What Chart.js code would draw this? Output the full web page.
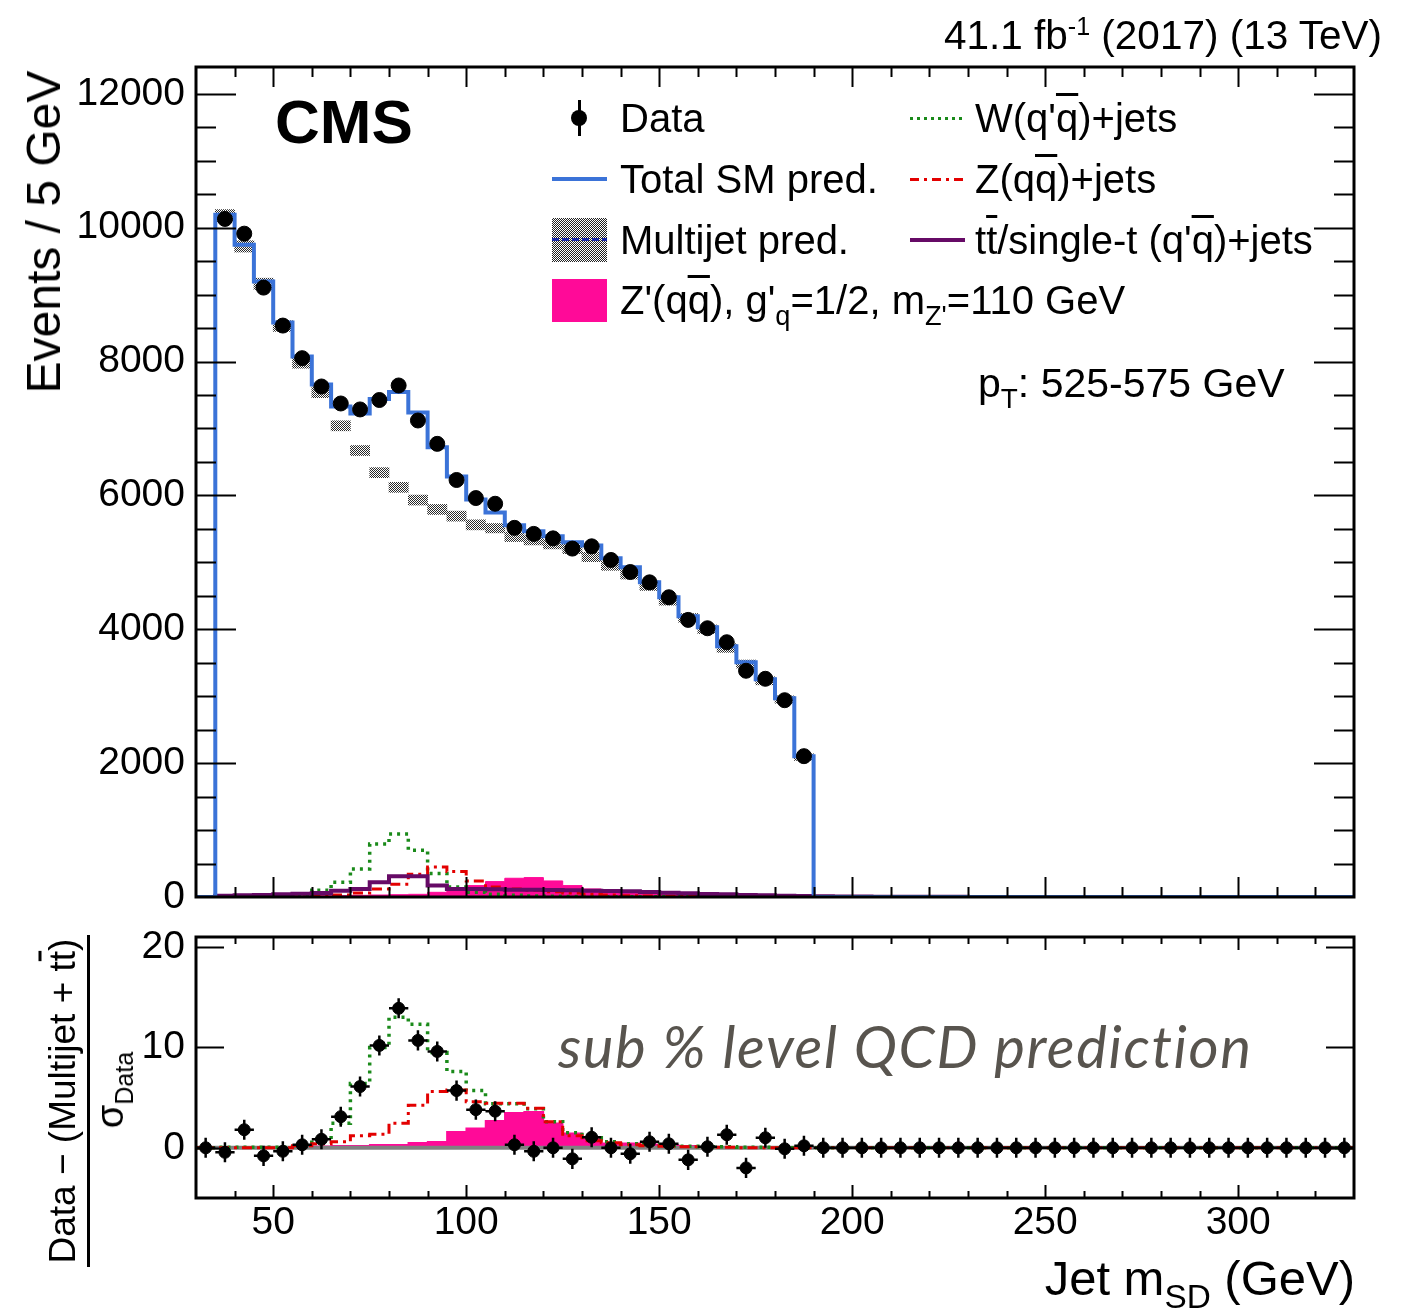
<!DOCTYPE html>
<html>
<head>
<meta charset="utf-8">
<title>Jet mSD, pT 525-575 GeV</title>
<script src="https://cdn.jsdelivr.net/npm/chart.js@4.4.1/dist/chart.umd.min.js"></script>
<style>
  html, body { margin:0; padding:0; background:#fff; }
  #page { position:relative; width:1411px; height:1312px; overflow:hidden;
          font-family:"Liberation Sans", Arial, Helvetica, sans-serif; color:#000; }
  canvas { position:absolute; left:0; }
  #mainCanvas { top:0; }
  #pullCanvas { top:870px; }
  .txt { position:absolute; white-space:nowrap; line-height:1; }
  .rot { position:absolute; white-space:nowrap; line-height:1; transform:translate(-50%,-50%) rotate(-90deg); }
  .ob  { text-decoration:overline; text-decoration-thickness:3px; }
  .sub { font-size:0.68em; position:relative; top:0.4em; }
  .sup { font-size:0.62em; position:relative; top:-0.55em; }
  .sym { position:absolute; }
  .leg { font-size:40px; }
</style>
</head>
<body>
<div id="page">
  <canvas id="mainCanvas" width="1411" height="960"></canvas>
  <canvas id="pullCanvas" width="1411" height="442"></canvas>

  <!-- header -->
  <div class="txt" style="right:29px;top:15px;font-size:40.5px">41.1 fb<span class="sup">-1</span> (2017) (13 TeV)</div>
  <div class="txt" style="left:275px;top:91px;font-size:62px;font-weight:bold">CMS</div>
  <div class="txt" style="left:978px;top:363px;font-size:41px">p<span class="sub">T</span>: 525-575 GeV</div>

  <!-- legend, left column -->
  <div class="sym" style="left:571px;top:110px;width:16px;height:16px;border-radius:50%;background:#000"></div>
  <div class="sym" style="left:577.5px;top:100px;width:3px;height:36px;background:#000"></div>
  <div class="txt leg" style="left:620px;top:98px">Data</div>

  <div class="sym" style="left:552px;top:177px;width:55px;height:4px;background:#3b73d8"></div>
  <div class="txt leg" style="left:620px;top:159px">Total SM pred.</div>

  <div class="sym" style="left:552px;top:218px;width:55px;height:44px;background:repeating-conic-gradient(#222 0 25%, #fff 0 50%) 0 0 / 2px 2px"></div>
  <div class="sym" style="left:552px;top:238px;width:55px;height:3px;background:repeating-linear-gradient(90deg,#1b2aa8 0 7px,transparent 7px 10px)"></div>
  <div class="txt leg" style="left:620px;top:220px">Multijet pred.</div>

  <div class="sym" style="left:552px;top:279px;width:55px;height:43px;background:#ff0a98"></div>
  <div class="txt leg" style="left:620px;top:280px">Z'(q<span class="ob">q</span>), g'<span class="sub">q</span>=1/2, m<span class="sub">Z'</span>=110 GeV</div>

  <!-- legend, right column -->
  <div class="sym" style="left:910px;top:117px;width:55px;height:3px;background:repeating-linear-gradient(90deg,#1a8a1a 0 3px,transparent 3px 7px)"></div>
  <div class="txt leg" style="left:975px;top:98px">W(q'<span class="ob">q</span>)+jets</div>

  <div class="sym" style="left:910px;top:178px;width:55px;height:3px;background:repeating-linear-gradient(90deg,#e30000 0 9px,transparent 9px 14px,#e30000 14px 17px,transparent 17px 22px)"></div>
  <div class="txt leg" style="left:975px;top:159px">Z(q<span class="ob">q</span>)+jets</div>

  <div class="sym" style="left:910px;top:238px;width:55px;height:4px;background:#660a66"></div>
  <div class="txt leg" style="left:975px;top:220px">t<span class="ob">t</span>/single-t (q'<span class="ob">q</span>)+jets</div>

  <!-- axis titles -->
  <div class="rot" style="left:44px;top:232px;font-size:48px">Events / 5 GeV</div>
  <div class="rot" style="left:62px;top:1101px;font-size:37px">Data − (Multijet + t<span class="ob">t</span>)</div>
  <div class="sym" style="left:87px;top:935px;width:3px;height:332px;background:#000"></div>
  <div class="rot" style="left:110px;top:1090px;font-size:38px">σ<span class="sub" style="font-size:0.66em">Data</span></div>
  <div class="txt" style="right:56px;top:1254px;font-size:49px">Jet m<span class="sub">SD</span> (GeV)</div>

  <div class="txt" style="left:558px;top:1017px;font-size:58px;letter-spacing:1.6px;font-family:Lato,'Open Sans',sans-serif;font-style:italic;color:#58544e">sub % level QCD prediction</div>
</div>

<script>
// ---- binning: 5 GeV bins from 30 to 330 GeV (lower edges) ----
const binLow = [30,35,40,45,50,55,60,65,70,75,80,85,90,95,100,105,110,115,120,125,
                130,135,140,145,150,155,160,165,170,175,180,185,190,195,200,205,210,215,220,225,
                230,235,240,245,250,255,260,265,270,275,280,285,290,295,300,305,310,315,320,325];
const binWidth = 5;
const xMin = 30, xMax = 330;

// y ticks of the upper panel (labels every 2000)
const mainYTicks = [0,500,1000,1500,2000,2500,3000,3500,4000,4500,5000,5500,6000,
                    6500,7000,7500,8000,8500,9000,9500,10000,10500,11000,11500,12000];

// ---- upper panel: events / 5 GeV ----
const dataEvents = [null,10130,9910,9104,8537,8050,7627,7373,7284,7425,7642,7119,6770,6230,5960,5875,
                    5515,5425,5358,5205,5239,5035,4855,4701,4478,4140,4015,3806,3380,3260,2940,2104,
                    null,null,null,null,null,null,null,null,null,null,null,null,null,null,null,null,
                    null,null,null,null,null,null,null,null,null,null,null,null];
const totalSM = [0,10194,9746,9194,8582,8075,7657,7328,7224,7440,7545,7239,6720,6284,5940,5746,
                 5555,5463,5388,5300,5250,5060,4925,4701,4478,4194,4030,3746,3507,3254,2970,2104,
                 0,0,0,0,0,0,0,0,0,0,0,0,0,0,0,0,0,0,0,0,0,0,0,0,0,0,0,0];
const multijet = [0,10180,9720,9160,8530,7980,7540,7040,6670,6340,6120,5930,5790,5690,5560,5510,
                  5380,5330,5270,5200,5080,4950,4820,4650,4430,4170,4000,3720,3480,3230,2950,2090,
                  0,0,0,0,0,0,0,0,0,0,0,0,0,0,0,0,0,0,0,0,0,0,0,0,0,0,0,0];
const multijetErr = [0,90,85,85,80,80,80,75,75,75,75,75,75,75,75,70,
                     70,70,70,70,70,70,70,70,70,65,65,65,60,60,55,50,
                     0,0,0,0,0,0,0,0,0,0,0,0,0,0,0,0,0,0,0,0,0,0,0,0,0,0,0,0];
const wJets = [0,0,0,0,10,30,100,220,420,790,940,700,350,150,70,40,
               25,15,10,8,6,5,4,3,2,2,1,1,1,0,0,0,
               0,0,0,0,0,0,0,0,0,0,0,0,0,0,0,0,0,0,0,0,0,0,0,0,0,0,0,0];
const zJets = [0,0,0,0,0,0,10,30,60,120,190,340,450,380,240,150,
               120,100,80,60,40,30,20,15,10,8,5,3,2,1,0,0,
               0,0,0,0,0,0,0,0,0,0,0,0,0,0,0,0,0,0,0,0,0,0,0,0,0,0,0,0];
const topJets = [0,20,25,30,40,50,60,95,120,220,310,310,170,120,120,115,
                 110,110,105,100,95,90,85,75,65,55,45,40,30,25,20,15,
                 10,8,6,5,4,3,2,2,1,1,1,0,0,0,0,0,0,0,0,0,0,0,0,0,0,0,0,0];
const zprime = [0,0,10,10,15,15,20,20,25,30,35,40,70,100,170,230,
                280,290,240,170,120,90,70,50,40,30,20,15,10,5,3,2,
                1,0,0,0,0,0,0,0,0,0,0,0,0,0,0,0,0,0,0,0,0,0,0,0,0,0,0,0];

// ---- lower panel: (data - (multijet + tt)) / sigma_data ----
const pullData = [0,-0.45,1.8,-0.8,-0.35,0.3,0.85,3.1,6.1,10.2,13.9,10.7,9.6,5.7,3.8,3.65,
                  0.3,-0.35,0,-1.1,1.05,0,-0.6,0.6,0.4,-1.2,0.1,1.3,-2.0,1.0,-0.1,0.2,
                  0,0,0,0,0,0,0,0,0,0,0,0,0,0,0,0,0,0,0,0,0,0,0,0,0,0,0,0];
const pullW = [0,0.05,0.05,0.05,0.05,0.3,0.85,2.45,6.4,10.0,13.0,12.3,9.5,7.6,5.7,4.4,
               4.4,3.9,2.6,1.5,1.0,0.6,0.4,0.3,0.2,0.15,0.1,0.1,0.05,0.05,0,0,
               0,0,0,0,0,0,0,0,0,0,0,0,0,0,0,0,0,0,0,0,0,0,0,0,0,0,0,0];
const pullZ = [0,0,0,0,0,0.2,0.4,0.6,1.2,1.35,2.45,4.25,5.6,5.75,4.6,4.45,
               4.45,3.95,2.6,1.2,0.7,0.5,0.3,0.2,0.15,0.1,0.1,0.05,0,0,0,0,
               0,0,0,0,0,0,0,0,0,0,0,0,0,0,0,0,0,0,0,0,0,0,0,0,0,0,0,0];
const pullZprime = [0,0,0.1,0.1,0.1,0.15,0.15,0.2,0.2,0.3,0.3,0.5,0.6,1.6,1.95,2.7,
                    3.5,3.6,2.45,1.45,1.1,0.45,0.45,0.35,0.3,0.2,0.1,0.05,0,0,0,0,
                    0,0,0,0,0,0,0,0,0,0,0,0,0,0,0,0,0,0,0,0,0,0,0,0,0,0,0,0];
const pullZero = [0, 0];
const pullSigma = 1;

// ---- colours ----
const C_BLUE = '#3b73d8', C_PURPLE = '#660a66', C_GREEN = '#1a8a1a',
      C_RED = '#e30000', C_PINK = '#ff0a98', C_GREY = '#808080';

Chart.defaults.font.family = '"Liberation Sans", Arial, sans-serif';
Chart.defaults.color = '#000';

// histogram as stepped line: one point per lower edge, plus closing edge
function stepData(vals) {
  const pts = binLow.map((x, i) => ({ x, y: vals[i] }));
  pts.push({ x: xMax, y: vals[vals.length - 1] });
  return pts;
}
function centres(vals) {
  return binLow.map((x, i) => ({ x: x + binWidth / 2, y: vals[i] })).filter(p => p.y !== null);
}

function hatchPattern() {
  const c = document.createElement('canvas');
  c.width = 4; c.height = 4;
  const g = c.getContext('2d');
  g.fillStyle = '#fff'; g.fillRect(0, 0, 4, 4);
  g.fillStyle = '#2a2a2a';
  for (let y = 0; y < 4; y++) for (let x = 0; x < 4; x++) if ((x + y) % 2 === 0) g.fillRect(x, y, 1, 1);
  return g.createPattern(c, 'repeat');
}

// ROOT-like frame with ticks pointing inward on all four sides
const rootFrame = {
  id: 'rootFrame',
  afterDraw(chart, args, o) {
    const { ctx, chartArea: a, scales: { x, y } } = chart;
    ctx.save();
    ctx.strokeStyle = '#000';
    ctx.lineWidth = 2;
    ctx.beginPath();
    x.ticks.forEach(t => {
      if (t.value <= xMin || t.value >= xMax) return;
      const px = Math.round(x.getPixelForValue(t.value)) + 0.5;
      const len = t.value % 50 === 0 ? o.xMajor : o.xMinor;
      ctx.moveTo(px, a.bottom); ctx.lineTo(px, a.bottom - len);
      ctx.moveTo(px, a.top);    ctx.lineTo(px, a.top + len);
    });
    y.ticks.forEach(t => {
      if (t.value <= y.min || t.value >= y.max) return;
      const py = Math.round(y.getPixelForValue(t.value)) + 0.5;
      const len = t.value % o.yStep === 0 ? o.yMajor : o.yMinor;
      if (!len) return;
      ctx.moveTo(a.left, py);  ctx.lineTo(a.left + len, py);
      ctx.moveTo(a.right, py); ctx.lineTo(a.right - len, py);
    });
    ctx.stroke();
    ctx.lineWidth = 3;
    ctx.strokeRect(a.left, a.top, a.right - a.left, a.bottom - a.top);
    ctx.restore();
  }
};

// error bars on the pull points: +-1 sigma vertically, half a bin horizontally
const pullErrorBars = {
  id: 'pullErrorBars',
  afterDatasetsDraw(chart) {
    const { ctx, scales: { x, y } } = chart;
    ctx.save();
    ctx.strokeStyle = '#000';
    ctx.lineWidth = 2.5;
    ctx.beginPath();
    chart.data.datasets[0].data.forEach(p => {
      const px = x.getPixelForValue(p.x), py = y.getPixelForValue(p.y);
      ctx.moveTo(px, y.getPixelForValue(p.y - pullSigma));
      ctx.lineTo(px, y.getPixelForValue(p.y + pullSigma));
      ctx.moveTo(x.getPixelForValue(p.x - binWidth / 2), py);
      ctx.lineTo(x.getPixelForValue(p.x + binWidth / 2), py);
    });
    ctx.stroke();
    ctx.restore();
  }
};

const multijetBars = binLow
  .map((x, i) => ({ x: x + binWidth / 2, y: [multijet[i] - multijetErr[i], multijet[i] + multijetErr[i]], v: multijet[i] }))
  .filter(p => p.v > 0);

const stepLine = (label, vals, color, width, dash, order) => ({
  label, data: stepData(vals), stepped: true, borderColor: color, borderWidth: width,
  borderDash: dash, pointRadius: 0, fill: false, order
});

new Chart(document.getElementById('mainCanvas'), {
  type: 'line',
  data: {
    datasets: [
      { label: 'Data', data: centres(dataEvents), showLine: false, pointRadius: 7.5,
        pointBackgroundColor: '#000', pointBorderColor: '#000', order: 0 },
      stepLine('Total SM pred.', totalSM, C_BLUE, 4, [], 1),
      { type: 'bar', label: 'Multijet pred.', data: multijetBars, backgroundColor: hatchPattern(),
        borderWidth: 0, barPercentage: 1, categoryPercentage: 1, order: 2 },
      stepLine('tt/single-t', topJets, C_PURPLE, 4, [], 3),
      stepLine('Z(qq)+jets', zJets, C_RED, 3, [10, 5, 3, 5], 4),
      stepLine('W(qq)+jets', wJets, C_GREEN, 3.5, [3, 5], 5),
      { label: "Z'", data: stepData(zprime), stepped: true, borderColor: C_PINK, borderWidth: 1,
        backgroundColor: C_PINK, fill: 'origin', pointRadius: 0, order: 6 }
    ]
  },
  options: {
    responsive: false, animation: false, devicePixelRatio: 1,
    layout: { padding: { top: 67, right: 57, left: 0, bottom: 0 } },
    plugins: {
      legend: { display: false }, tooltip: { enabled: false },
      rootFrame: { xMajor: 20, xMinor: 10, yMajor: 40, yMinor: 20, yStep: 2000 }
    },
    scales: {
      x: { type: 'linear', min: xMin, max: xMax, offset: false,
           ticks: { display: false, stepSize: 10, autoSkip: false, includeBounds: false },
           grid: { display: false, drawTicks: false }, border: { display: false },
           afterFit: s => { s.height = 63; } },
      y: { min: 0, max: 12400,
           afterBuildTicks: s => { s.ticks = mainYTicks.map(v => ({ value: v })); },
           ticks: { autoSkip: false, padding: 11, font: { size: 39 }, color: '#000',
                    callback: v => (v % 2000 === 0 ? String(v) : '') },
           grid: { display: false, drawTicks: false }, border: { display: false },
           afterFit: s => { s.width = 196; } }
    }
  },
  plugins: [rootFrame]
});

new Chart(document.getElementById('pullCanvas'), {
  type: 'line',
  data: {
    datasets: [
      { label: 'Data', data: centres(pullData), showLine: false, pointRadius: 6,
        pointBackgroundColor: '#000', pointBorderColor: '#000', order: 0 },
      stepLine('Z(qq)+jets', pullZ, C_RED, 3, [10, 5, 3, 5], 1),
      stepLine('W(qq)+jets', pullW, C_GREEN, 3.5, [3, 5], 2),
      { label: 'zero', data: [{ x: xMin, y: pullZero[0] }, { x: xMax, y: pullZero[1] }],
        borderColor: C_GREY, borderWidth: 4, pointRadius: 0, order: 4 },
      { label: "Z'", data: stepData(pullZprime), stepped: true, borderColor: C_PINK, borderWidth: 1.5,
        backgroundColor: C_PINK, fill: 'origin', pointRadius: 0, order: 6 }
    ]
  },
  options: {
    responsive: false, animation: false, devicePixelRatio: 1,
    layout: { padding: { top: 67, right: 57, left: 0, bottom: 0 } },
    plugins: {
      legend: { display: false }, tooltip: { enabled: false },
      rootFrame: { xMajor: 13, xMinor: 7, yMajor: 28, yMinor: 0, yStep: 10 }
    },
    scales: {
      x: { type: 'linear', min: xMin, max: xMax, offset: false,
           ticks: { stepSize: 10, autoSkip: false, includeBounds: false, maxRotation: 0, padding: 2,
                    font: { size: 39 }, color: '#000',
                    callback: v => (v % 50 === 0 ? String(v) : '') },
           grid: { display: false, drawTicks: false }, border: { display: false },
           afterFit: s => { s.height = 114; } },
      y: { min: -5, max: 21,
           ticks: { stepSize: 10, autoSkip: false, includeBounds: false, padding: 11,
                    font: { size: 39 }, color: '#000', callback: v => String(v) },
           grid: { display: false, drawTicks: false }, border: { display: false },
           afterFit: s => { s.width = 196; } }
    }
  },
  plugins: [rootFrame, pullErrorBars]
});
</script>
</body>
</html>
